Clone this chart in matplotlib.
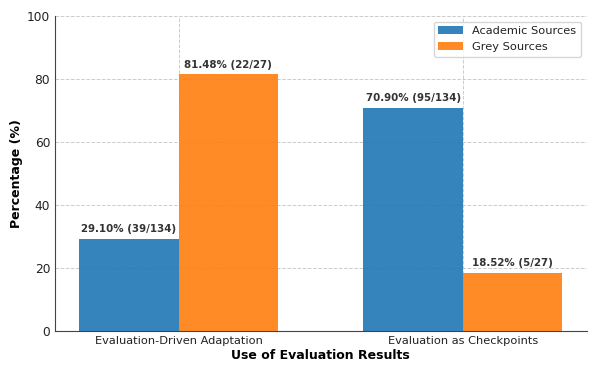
import numpy as np
import matplotlib.pyplot as plt

categories = ["Evaluation-Driven Adaptation", "Evaluation as Checkpoints"]
academic = [29.10, 70.90]
grey = [81.48, 18.52]
academic_counts = ["39/134", "95/134"]
grey_counts = ["22/27", "5/27"]

x = np.arange(len(categories))
w = 0.35

fig, ax = plt.subplots(figsize=(5.98, 3.74), dpi=100)
fig.subplots_adjust(left=0.092, right=0.981, top=0.957, bottom=0.115)

b1 = ax.bar(x - w/2, academic, w, color="tab:blue", alpha=0.9, label="Academic Sources")
b2 = ax.bar(x + w/2, grey, w, color="tab:orange", alpha=0.9, label="Grey Sources")

for bars, vals, counts in [(b1, academic, academic_counts), (b2, grey, grey_counts)]:
    for bar, v, c in zip(bars, vals, counts):
        ax.annotate(f"{v:.2f}% ({c})", (bar.get_x() + bar.get_width()/2, v),
                    xytext=(0, 3.5), textcoords="offset points", ha="center", va="bottom",
                    fontsize=7.4, fontweight="bold", color="#333333")

ax.set_ylim(0, 100)
ax.set_xticks(x)
ax.set_xticklabels(categories, fontsize=8.2, color="#222222")
ax.tick_params(axis="both", length=0, pad=3.5)
ax.tick_params(axis="y", labelsize=8.8, labelcolor="#222222")
ax.set_xlabel("Use of Evaluation Results", fontsize=9, fontweight="bold", labelpad=2)
ax.set_ylabel("Percentage (%)", fontsize=9, fontweight="bold", labelpad=2.5)
ax.grid(True, linestyle="--", color="#cccccc", linewidth=0.7)
ax.set_axisbelow(True)
for s in ["top", "right"]:
    ax.spines[s].set_visible(False)
for s in ["left", "bottom"]:
    ax.spines[s].set_color("#444444")
leg = ax.legend(loc="upper right", fontsize=8.2, handlelength=2.2)
for t in leg.get_texts():
    t.set_color("#222222")

fig.savefig("out.png")
